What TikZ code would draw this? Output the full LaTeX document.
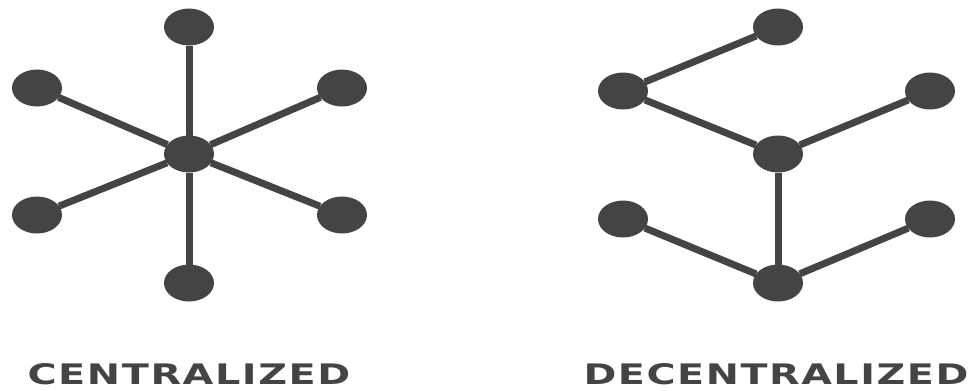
\documentclass[tikz,border=0pt]{standalone}
\usepackage{fontspec}
\setmainfont{DejaVu Sans}
\usetikzlibrary{shapes.geometric, positioning}
\definecolor{netgray}{HTML}{444444}
\tikzstyle{vertex}    = [fill=netgray, draw=none, ellipse, minimum width=1cm, minimum height=0.74cm, inner sep=0pt, outer sep=0pt]
\tikzstyle{edge}      = [draw=netgray, line width=0.14cm]
\tikzstyle{title}     = [text=netgray, font=\addfontfeatures{LetterSpace=4}\bfseries, inner sep=0pt]

\begin{document}
\begin{tikzpicture}[x=0.02cm, y=-0.02cm]
    \useasboundingbox (0,0) rectangle (974,390);

    % centralized
    \node[vertex] (C)    at (189,154) {};
    \node[vertex] (CP1)  at (189,27)  {};
    \node[vertex] (CP2)  at (342,88)  {};
    \node[vertex] (CP3)  at (342,215) {};
    \node[vertex] (CP4)  at (189,283) {};
    \node[vertex] (CP5)  at (37,215)  {};
    \node[vertex] (CP6)  at (37,88)   {};

    \draw[edge] (C) -- (CP1);
    \draw[edge] (C) -- (CP2);
    \draw[edge] (C) -- (CP3);
    \draw[edge] (C) -- (CP4);
    \draw[edge] (C) -- (CP5);
    \draw[edge] (C) -- (CP6);

    % decentralized
    \node[vertex] (D1)   at (778,154) {};
    \node[vertex] (D2)   at (778,283) {};
    \node[vertex] (DP1)  at (778,27)  {};
    \node[vertex] (DP2)  at (623,91)  {};
    \node[vertex] (DP3)  at (930,91)  {};
    \node[vertex] (DP4)  at (623,219) {};
    \node[vertex] (DP5)  at (930,219) {};

    \draw[edge] (DP2) -- (DP1);
    \draw[edge] (DP2) -- (D1);
    \draw[edge] (D1) -- (DP3);
    \draw[edge] (D1) -- (D2);
    \draw[edge] (D2) -- (DP4);
    \draw[edge] (D2) -- (DP5);

    \node[title, anchor=base] (CT) at (189,384) {\resizebox{6.46cm}{0.42cm}{CENTRALIZED}};
    \node[title, anchor=base] (DT) at (776,384) {\resizebox{7.7cm}{0.42cm}{DECENTRALIZED}};

\end{tikzpicture}
\end{document}
